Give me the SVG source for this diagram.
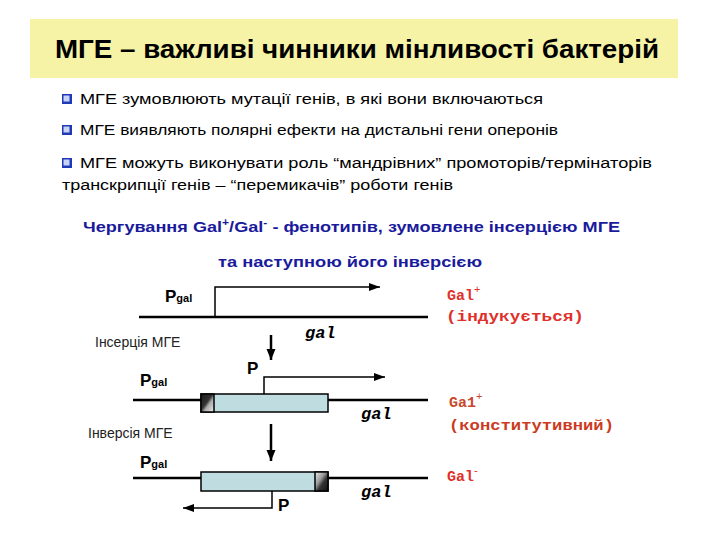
<svg xmlns="http://www.w3.org/2000/svg" width="720" height="540" viewBox="0 0 720 540">
<style>
.title{font-family:"Liberation Sans",Arial,sans-serif;font-weight:bold;font-size:26px;fill:#000}
.bul{font-family:"Liberation Sans",Arial,sans-serif;font-size:15.5px;fill:#000}
.head{font-family:"Liberation Sans",Arial,sans-serif;font-weight:bold;font-size:15px;fill:#1a1a9c}
.lbl{font-family:"Liberation Sans",Arial,sans-serif;font-size:14px;fill:#222}
.pb{font-family:"Liberation Sans",Arial,sans-serif;font-weight:bold;fill:#000}
.gene{font-family:"Liberation Mono","Courier New",monospace;font-weight:bold;font-style:italic;font-size:17px;fill:#000}
.red{font-family:"Liberation Mono","Courier New",monospace;font-weight:bold;font-size:15px}
.dna{stroke:#000;stroke-width:2.5;fill:none}
.prom{stroke:#000;stroke-width:1.5;fill:none}
.down{stroke:#000;stroke-width:2.5;fill:none}
.box{fill:#bfdde1;stroke:#000;stroke-width:1.5}
</style>
<defs>
<marker id="ah" markerUnits="userSpaceOnUse" markerWidth="12" markerHeight="10" refX="11" refY="5" orient="auto">
<path d="M0,1 L11,5 L0,9 z" fill="#000"/>
</marker>
<marker id="ahd" markerUnits="userSpaceOnUse" markerWidth="12" markerHeight="12" refX="11" refY="6" orient="auto">
<path d="M0,1.5 L11,6 L0,10.5 z" fill="#000"/>
</marker>
<linearGradient id="endL" x1="0" y1="0" x2="1" y2="1">
<stop offset="0" stop-color="#1a1a1a"/>
<stop offset="0.45" stop-color="#333"/>
<stop offset="0.6" stop-color="#aaa"/>
<stop offset="1" stop-color="#eee"/>
</linearGradient>
<linearGradient id="endR" x1="0" y1="0" x2="1" y2="1">
<stop offset="0" stop-color="#eee"/>
<stop offset="0.4" stop-color="#999"/>
<stop offset="0.6" stop-color="#333"/>
<stop offset="1" stop-color="#111"/>
</linearGradient>
<g id="cb">
<rect x="0" y="0" width="10" height="10" fill="#1f39b8"/>
<rect x="1.5" y="1.5" width="6" height="6" fill="#c9d3f5"/>
</g>
</defs>

<g id="title">
<rect x="30" y="19" width="648" height="59" fill="#f6f3a6"/>
<text class="title" x="357" y="58" text-anchor="middle" textLength="604" lengthAdjust="spacingAndGlyphs">МГЕ – важливі чинники мінливості бактерій</text>
</g>

<g id="bullets">
<use href="#cb" x="62" y="94"/>
<text class="bul" x="80" y="104" textLength="463" lengthAdjust="spacingAndGlyphs">МГЕ зумовлюють мутації генів, в які вони включаються</text>
<use href="#cb" x="62" y="125"/>
<text class="bul" x="80" y="135" textLength="478" lengthAdjust="spacingAndGlyphs">МГЕ виявляють полярні ефекти  на дистальні гени оперонів</text>
<use href="#cb" x="62" y="158"/>
<text class="bul" x="80" y="168" textLength="572" lengthAdjust="spacingAndGlyphs">МГЕ можуть виконувати роль “мандрівних” промоторів/термінаторів</text>
<text class="bul" x="62" y="190" textLength="391" lengthAdjust="spacingAndGlyphs">транскрипції генів – “перемикачів” роботи генів</text>
</g>

<g id="heading">
<text class="head" x="83" y="232" textLength="537" lengthAdjust="spacingAndGlyphs">Чергування Gal<tspan font-size="10" dy="-6">+</tspan><tspan dy="6">/Gal</tspan><tspan font-size="10" dy="-6">-</tspan><tspan dy="6"> - фенотипів, зумовлене інсерцією МГЕ</tspan></text>
<text class="head" x="218" y="267" textLength="264" lengthAdjust="spacingAndGlyphs">та наступною його інверсією</text>
</g>

<g id="connectors">
<line class="down" x1="271" y1="335" x2="271" y2="360" marker-end="url(#ahd)"/>
<line class="down" x1="271" y1="424" x2="271" y2="461" marker-end="url(#ahd)"/>
</g>

<g id="stage1">
<line class="dna" x1="139" y1="317" x2="428" y2="317"/>
<path class="prom" d="M215,317 V287 H380" marker-end="url(#ah)"/>
<text class="pb" x="165" y="302"><tspan font-size="17">P</tspan><tspan font-size="11">gal</tspan></text>
<text class="gene" x="305" y="338">gal</text>
<text class="red" x="447" y="300" fill="#e0302a">Gal<tspan font-family="Liberation Sans,Arial,sans-serif" font-weight="normal" font-size="11" dy="-7">+</tspan></text>
<text class="red" x="446" y="321" fill="#e0302a" textLength="138" lengthAdjust="spacingAndGlyphs">(індукується)</text>
<text class="lbl" x="95" y="347">Інсерція МГЕ</text>
</g>

<g id="stage2">
<line class="dna" x1="133" y1="400" x2="428" y2="400"/>
<rect class="box" x="201" y="394" width="127" height="18"/>
<rect x="201" y="394" width="13" height="18" fill="url(#endL)" stroke="#000" stroke-width="1.5"/>
<path class="prom" d="M264,394 V377 H385" marker-end="url(#ah)"/>
<text class="pb" x="247" y="374" font-size="17">P</text>
<text class="pb" x="140" y="386"><tspan font-size="17">P</tspan><tspan font-size="11">gal</tspan></text>
<text class="gene" x="361" y="419">gal</text>
<text class="red" x="449" y="407" fill="#c8482a">Ga1<tspan font-family="Liberation Sans,Arial,sans-serif" font-weight="normal" font-size="11" dy="-7">+</tspan></text>
<text class="red" x="449" y="430" fill="#cc3a22" textLength="165" lengthAdjust="spacingAndGlyphs">(конститутивний)</text>
<text class="lbl" x="88" y="438">Інверсія МГЕ</text>
</g>

<g id="stage3">
<line class="dna" x1="133" y1="478" x2="428" y2="478"/>
<rect class="box" x="201" y="472" width="127" height="19"/>
<rect x="315" y="472" width="13" height="19" fill="url(#endR)" stroke="#000" stroke-width="1.5"/>
<path class="prom" d="M272,491 V508 H183" marker-end="url(#ah)"/>
<text class="pb" x="278" y="511" font-size="17">P</text>
<text class="pb" x="140" y="468"><tspan font-size="17">P</tspan><tspan font-size="11">gal</tspan></text>
<text class="gene" x="361" y="497">gal</text>
<text class="red" x="447" y="481" fill="#e0302a">Gal<tspan font-family="Liberation Sans,Arial,sans-serif" font-weight="normal" font-size="11" dy="-7">-</tspan></text>
</g>
</svg>
